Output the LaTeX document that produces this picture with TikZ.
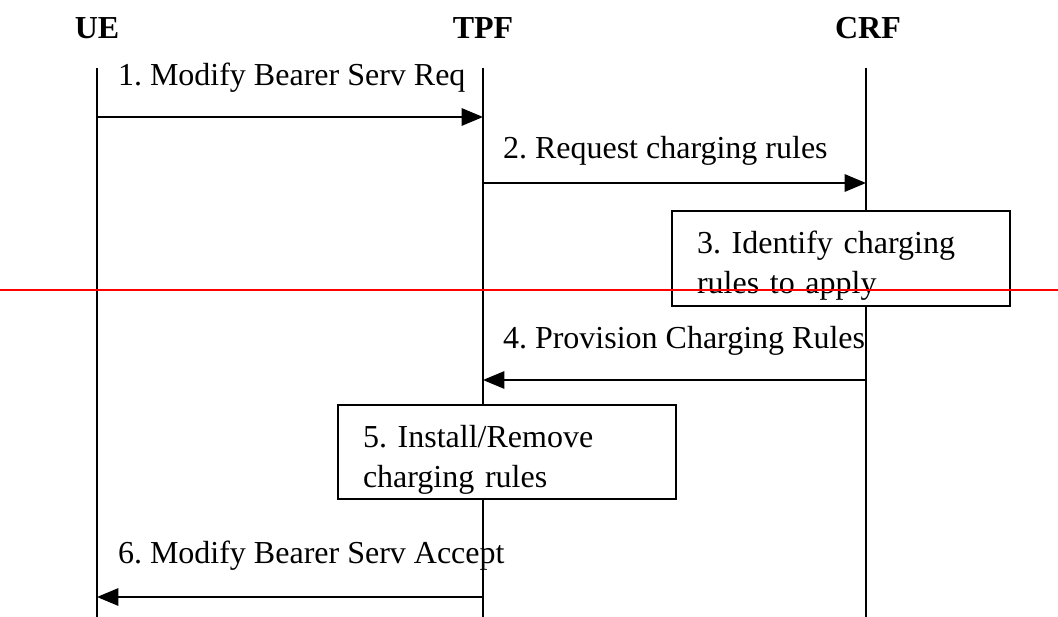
\documentclass[tikz,border=0pt]{standalone}
\usepackage{fontspec}
\setmainfont{Liberation Serif}
\usetikzlibrary{arrows.meta}
\frenchspacing

\begin{document}
\begin{tikzpicture}[x=0.375pt,y=-0.375pt,line width=0.75pt,
	font=\fontsize{12}{15}\selectfont,
	head/.style={font=\fontsize{12}{15}\selectfont\bfseries},
	lbl/.style={anchor=west,inner sep=0pt},
	msg/.style={-{Triangle[length=8pt,width=6.5pt]}},
	box/.style={draw=black,fill=white,text width=108pt,align=left,inner ysep=0pt,
		minimum width=126.75pt,minimum height=35.6pt,
		execute at begin node={\rule{0pt}{14pt}}}]
	
	\useasboundingbox (0,0) rectangle (1058,617);
	
	\node[head] (ue) at (97, 28)     {UE};
	\node[head] (tpf) at (483, 28)     {TPF};
	\node[head] (crf) at (868, 28)     {CRF};
	
	\coordinate (ue top) at (97, 68);
	\coordinate (ue bot) at (97, 617);
	\coordinate (tpf top) at (483, 68);
	\coordinate (tpf bot) at (483, 617);
	\coordinate (crf top) at (866, 68);
	\coordinate (crf bot) at (866, 617);
	
	\path[-] (ue top) edge (ue bot);
	\path[-] (tpf top) edge (tpf bot);
	\path[-] (crf top) edge (crf bot);
	
	\node[box] (identify) at (841, 258.5)     {3. Identify charging rules to apply};
	\node[box] (install) at (507, 452)     {5. Install/Remove charging rules};
	
	\coordinate (ue1) at (97, 117);
	\coordinate (tpf1) at (483, 117);
	\coordinate (tpf2) at (483, 183);
	\coordinate (crf2) at (866, 183);
	\coordinate (crf4) at (866, 380);
	\coordinate (tpf4) at (483, 380);
	\coordinate (tpf6) at (483, 597);
	\coordinate (ue6) at (97, 597);
	
	\path[msg] (ue1) edge (tpf1);
	\path[msg] (tpf2) edge (crf2);
	\path[msg] (crf4) edge (tpf4);
	\path[msg] (tpf6) edge (ue6);
	
	\node[lbl] (req) at (117, 78)     {1. Modify Bearer Serv Req};
	\node[lbl] (rules) at (502, 151)     {2. Request charging rules};
	\node[lbl] (prov) at (502, 341)     {4. Provision Charging Rules};
	\node[lbl] (accept) at (117, 556)     {6. Modify Bearer Serv Accept};
	
	\coordinate (cut west) at (0, 290);
	\coordinate (cut east) at (1058, 290);
	\path[-,red] (cut west) edge (cut east);
	
\end{tikzpicture}
\end{document}
